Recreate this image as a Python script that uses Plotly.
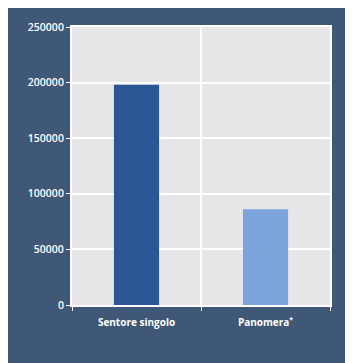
import plotly.graph_objects as go

categories = ["Sentore singolo", "Panomera<sup>*</sup>"]
values = [198000, 86000]
bar_colors = ["#2b5797", "#7ba4db"]
y_ticks = [0, 50000, 100000, 150000, 200000, 250000]

DARK = "#3f5878"
PLOT_BG = "#e7e7e9"

# page body has an 8px margin, so the figure is offset by 8px (left/top)
OFF = 8
W, H = 353 - OFF, 363 - OFF
L, R, T, B = 72 - OFF, 23, 23 - OFF, 58

fig = go.Figure(go.Bar(
    x=categories, y=values, width=0.35,
    marker=dict(color=bar_colors, line=dict(width=0)),
))

fig.update_layout(
    width=W, height=H,
    margin=dict(l=L, r=R, t=T, b=B, pad=0),
    paper_bgcolor=DARK,
    plot_bgcolor=PLOT_BG,
    showlegend=False,
    font=dict(family="Open Sans", color="white"),
)
fig.update_yaxes(
    range=[0, 250000], tickvals=y_ticks, tickformat="d",
    showgrid=True, gridcolor="white", gridwidth=1.5,
    zeroline=False, showline=True, linecolor="white", linewidth=2, mirror=True,
    ticks="outside", ticklen=4, tickcolor="white", tickwidth=1,
    tickfont=dict(size=10.5, color="white", family="Open Sans", weight=600),
)
fig.update_xaxes(
    tickson="boundaries", showgrid=True, gridcolor="white", gridwidth=1.5,
    showline=True, linecolor="white", linewidth=2, mirror=True,
    ticks="outside", ticklen=4, tickcolor="white", ticklabelstandoff=7,
    tickfont=dict(size=10, color="white", family="Open Sans", weight=700),
)

fig.write_html("out.html")
